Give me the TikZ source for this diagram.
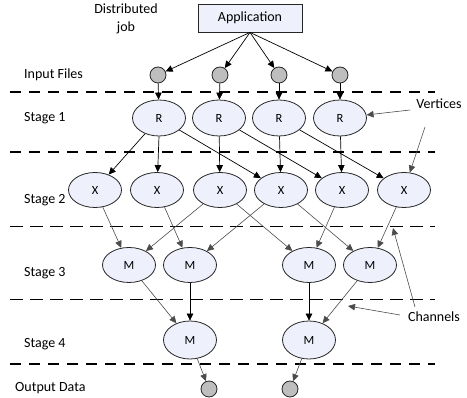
\documentclass[tikz,border=0pt]{standalone}
\usepackage{fontspec}
\setmainfont{Carlito}
\usetikzlibrary{shapes.geometric,arrows.meta}
\definecolor{vfill}{HTML}{EEF0FC}
\definecolor{cfill}{HTML}{BEBEBE}
\begin{document}
\begin{tikzpicture}[x=1pt,y=-1pt,
  lbl/.style={font=\fontsize{14}{15}\selectfont, anchor=west, inner sep=0pt},
  vert/.style={ellipse, draw=black!85, line width=0.8pt, fill=vfill, minimum width=53pt, minimum height=36pt, inner sep=0pt, font=\fontsize{12.5}{14}\selectfont},
  fdot/.style={circle, draw=black!85, line width=0.8pt, fill=cfill, minimum size=16pt, inner sep=0pt},
  arr/.style={-{Triangle[length=7pt,width=6.5pt]}, line width=0.7pt, draw=black},
  garr/.style={-{Triangle[length=7pt,width=6.5pt]}, line width=0.6pt, draw=black!70},
  thickdash/.style={line width=1.8pt, dash pattern=on 11pt off 8pt},
  thindash/.style={line width=0.9pt, dash pattern=on 13pt off 7pt},
]
\useasboundingbox (0,0) rectangle (467,398);

% dashed stage separators
\draw[thickdash] (10,92) -- (435,92);
\draw[thickdash] (10,152) -- (435,152);
\draw[thindash] (10,226) -- (435,226);
\draw[thindash] (10,299) -- (435,299);
\draw[thickdash] (10,364) -- (435,364);

% labels
\node[font=\fontsize{14}{15}\selectfont, align=center, inner sep=0pt] (dj) at (126,19) {Distributed\\[3pt]job};
\node[lbl] (lin) at (24,75) {Input Files};
\node[lbl] (ls1) at (24,118) {Stage 1};
\node[lbl] (ls2) at (24,200) {Stage 2};
\node[lbl] (ls3) at (24,273) {Stage 3};
\node[lbl] (ls4) at (24,344) {Stage 4};
\node[lbl] (lout) at (15,388) {Output Data};
\node[lbl, anchor=center] (lvert) at (439,104) {Vertices};
\node[lbl, anchor=center] (lchan) at (434,317) {Channels};

% application
\node[draw=black!85, line width=0.8pt, fill=vfill, minimum width=104pt, minimum height=28pt, inner sep=0pt, font=\fontsize{14}{15}\selectfont] (app) at (250,18) {Application};

% input files
\node[fdot] (i1) at (158,75) {};
\node[fdot] (i2) at (220,75) {};
\node[fdot] (i3) at (279,75) {};
\node[fdot] (i4) at (340,75) {};

% stage 1
\node[vert] (r1) at (159,118) {R};
\node[vert] (r2) at (219,118) {R};
\node[vert] (r3) at (279,118) {R};
\node[vert] (r4) at (340,118) {R};

% stage 2
\node[vert, minimum height=35pt] (x1) at (95,190) {X};
\node[vert, minimum height=35pt] (x2) at (157,190) {X};
\node[vert, minimum height=35pt] (x3) at (220,190) {X};
\node[vert, minimum height=35pt] (x4) at (281,190) {X};
\node[vert, minimum height=35pt] (x5) at (342,190) {X};
\node[vert, minimum height=35pt] (x6) at (404,190) {X};

% stage 3
\node[vert, minimum height=35pt] (m1) at (129,265) {M};
\node[vert, minimum height=35pt] (m2) at (190,265) {M};
\node[vert, minimum height=35pt] (m3) at (309,265) {M};
\node[vert, minimum height=35pt] (m4) at (370,265) {M};

% stage 4
\node[vert, minimum height=38pt] (n1) at (190,340) {M};
\node[vert, minimum height=38pt] (n2) at (309,340) {M};

% outputs
\node[fdot] (o1) at (209,389) {};
\node[fdot] (o2) at (290,389) {};

% application -> inputs
\draw[arr] (app.south) -- (i1);
\draw[arr] (app.south) -- (i2);
\draw[arr] (app.south) -- (i3);
\draw[arr] (app.south) -- (i4);

% inputs -> stage 1
\draw[arr] (i1) -- (r1);
\draw[arr] (i2) -- (r2);
\draw[arr] (i3) -- (r3);
\draw[arr] (i4) -- (r4);

% stage 1 -> stage 2
\draw[arr] (r1) -- (x1);
\draw[arr] (r1.south) -- (x2);
\draw[arr] (r1) -- (x4);
\draw[arr] (r2) -- (x3);
\draw[arr] (r2) -- (x5);
\draw[arr] (r3) -- (x4);
\draw[arr] (r3) -- (x6);
\draw[arr] (r4) -- (x5);

% stage 2 -> stage 3
\draw[garr] (x1) -- (m1);
\draw[garr] (x2) -- (m2);
\draw[garr] (x3) -- (m1);
\draw[garr] (x3) -- (m3);
\draw[garr] (x4) -- (m2);
\draw[garr] (x4) -- (m4);
\draw[garr] (x5) -- (m3);
\draw[garr] (x6) -- (m4);

% stage 3 -> stage 4
\draw[garr] (m1) -- (n1);
\draw[arr] (m2) -- (n1);
\draw[arr] (m3) -- (n2);
\draw[garr] (m4) -- (n2);

% stage 4 -> outputs
\draw[garr] (n1) -- (o1);
\draw[garr] (n2) -- (o2);

% annotations
\coordinate (vs) at (410,110);
\coordinate (vt) at (425,127);
\coordinate (ch1) at (348,306);
\coordinate (ch2) at (393,228);
\coordinate (cs) at (415,307);
\coordinate (cs2) at (400,315);
\draw[garr] (vs) -- (r4);
\draw[garr] (vt) -- (x6);
\draw[garr] (cs2) -- (ch1);
\draw[garr] (cs) -- (ch2);
\end{tikzpicture}
\end{document}
